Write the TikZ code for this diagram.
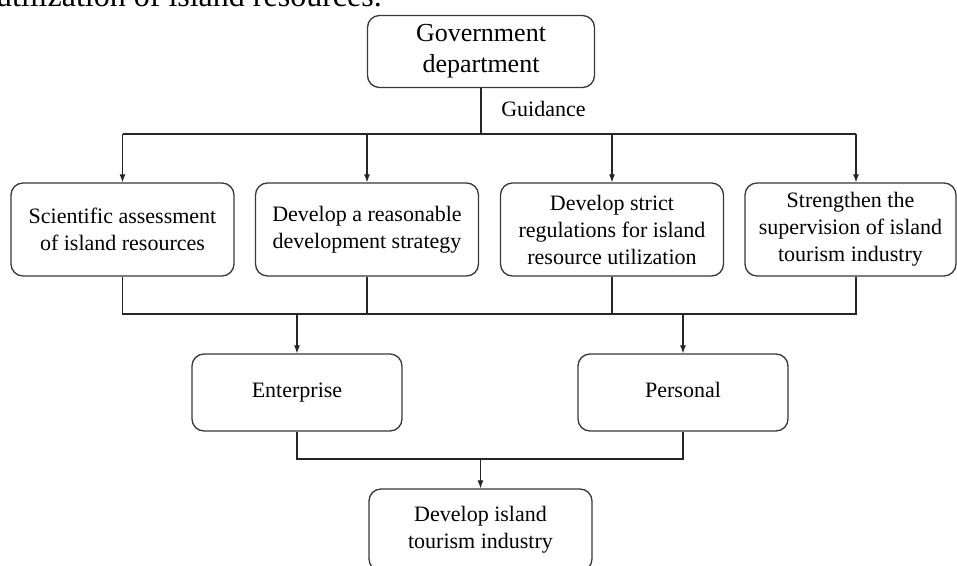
\documentclass[tikz,border=0pt]{standalone}
\usepackage{fontspec}
\setmainfont{Liberation Serif}
\usetikzlibrary{arrows.meta}
\begin{document}
\begin{tikzpicture}[x=0.75pt,y=-0.75pt,
  box/.style={draw=black!78, line width=1pt, rounded corners=9pt, align=center,
    minimum width=167.25pt, minimum height=69.75pt, inner sep=0pt,
    font=\fontsize{16.5}{20.25}\selectfont},
  link/.style={draw=black!85, line width=0.8pt},
  >={Latex[length=6pt,width=4.5pt]}]
\useasboundingbox (0,0) rectangle (957,566);
\clip (0,0) rectangle (957,566);
% caption line cut off at the top
\node[anchor=base east, inner sep=0pt, font=\fontsize{24}{28}\selectfont] (cap) at (382,7) {utilization of island resources.};
\node[box, minimum width=170.25pt, minimum height=54pt, font=\fontsize{19.5}{23.25}\selectfont] (gov) at (481,51.5) {Government\\department};
\node[box] (sci) at (122.5,229.5) {Scientific assessment\\of island resources};
\node[box] (strat) at (367,229.5) {Develop a reasonable\\development strategy};
\node[box] (regu) at (612,229.5) {Develop strict\\regulations for island\\resource utilization};
\node[box, minimum width=158.25pt] (superv) at (850.5,229.5) {Strengthen the\\supervision of island\\tourism industry};
\node[box, minimum width=157.5pt, minimum height=57.75pt] (ent) at (297,392.5) {\strut Enterprise};
\node[box, minimum width=157.5pt, minimum height=57.75pt] (pers) at (683,392.5) {\strut Personal};
\node[box, minimum height=61.5pt] (dev) at (480.5,530) {Develop island\\tourism industry};
% upper fork
\coordinate (g) at (481,134);
\coordinate (c4) at (856,134);
\draw[link] (gov.south) -- (g);
\node[anchor=west, inner sep=0pt, font=\fontsize{16.5}{20}\selectfont] (guid) at (501,109) {Guidance};
\draw[link] (sci.north |- g) -- (c4);
\draw[link, ->] (sci.north |- g) -- (sci.north);
\draw[link, ->] (strat.north |- g) -- (strat.north);
\draw[link, ->] (regu.north |- g) -- (regu.north);
\draw[link, ->] (c4) -- (c4 |- superv.north);
% middle join
\coordinate (m) at (481,314);
\coordinate (d4) at (856,314);
\draw[link] (sci.south) -- (sci.south |- m) -- (d4) -- (c4 |- superv.south);
\draw[link] (strat.south) -- (strat.south |- m);
\draw[link] (regu.south) -- (regu.south |- m);
\draw[link, ->] (ent.north |- m) -- (ent.north);
\draw[link, ->] (pers.north |- m) -- (pers.north);
% lower join
\coordinate (l) at (480.5,459);
\draw[link] (ent.south) -- (ent.south |- l) -- (pers.south |- l) -- (pers.south);
\draw[link, ->] (l) -- (dev.north);
\end{tikzpicture}
\end{document}
